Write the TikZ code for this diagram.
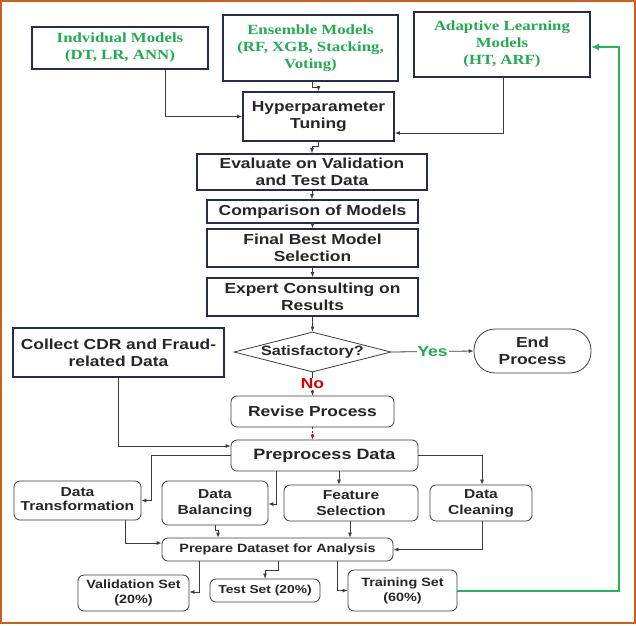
\documentclass[tikz,border=0pt]{standalone}
\usepackage{fontspec}
\setmainfont{Liberation Sans}[FakeStretch=1.2]
\newfontfamily\greenfont{Liberation Serif}[FakeStretch=1.2]
\usetikzlibrary{arrows.meta,calc,shapes.geometric}
\definecolor{frameor}{RGB}{200,96,30}
\definecolor{gtext}{RGB}{36,170,82}
\definecolor{gline}{RGB}{40,180,90}
\definecolor{navy}{RGB}{38,44,78}
\definecolor{lgray}{RGB}{60,60,60}
\begin{document}
\begin{tikzpicture}[x=1pt,y=-1pt,
  modelbox/.style={draw=navy,line width=1.8pt,fill=white,inner sep=0pt,align=center,
    font=\greenfont\bfseries\fontsize{14}{17}\selectfont,text=gtext},
  flowbox/.style={draw=navy,line width=1.8pt,fill=white,inner sep=0pt,align=center,
    font=\bfseries\fontsize{14.5}{17}\selectfont,text=black!85},
  softbox/.style={draw=lgray,line width=0.8pt,rounded corners=6pt,fill=white,inner sep=0pt,align=center,
    font=\bfseries\fontsize{14.5}{17}\selectfont,text=black!85},
  midbox/.style={softbox,font=\bfseries\fontsize{13}{16}\selectfont},
  smallbox/.style={softbox,font=\bfseries\fontsize{12}{15}\selectfont},
  arr/.style={draw=lgray,line width=0.8pt,-{Latex[length=5pt,width=4pt]}},
]
\useasboundingbox (0,0) rectangle (636,625);
\fill[white] (0,0) rectangle (636,625);
\draw[frameor,line width=2.5pt] (1.2,1.2) rectangle (634.8,623.2);

% top model boxes
\node[modelbox,minimum width=176pt,minimum height=42pt] (ind) at (120,48) {Indvidual Models\\(DT, LR, ANN)};
\node[modelbox,minimum width=175pt,minimum height=66pt] (ens) at (310.5,48) {Ensemble Models\\(RF, XGB, Stacking,\\Voting)};
\node[modelbox,minimum width=176pt,minimum height=65pt] (ada) at (502,44.5) {Adaptive Learning\\Models\\(HT, ARF)};

% main flow
\node[flowbox,minimum width=151pt,minimum height=49pt] (hyp) at (318.5,116.5) {Hyperparameter\\Tuning};
\node[flowbox,minimum width=230pt,minimum height=36pt] (eval) at (312,172) {Evaluate on Validation\\and Test Data};
\node[flowbox,minimum width=211pt,minimum height=23pt] (comp) at (312.5,211.5) {Comparison of Models};
\node[flowbox,minimum width=211pt,minimum height=38pt] (final) at (312.5,248) {Final Best Model\\Selection};
\node[flowbox,minimum width=211pt,minimum height=38pt] (expert) at (312.5,297) {Expert Consulting on\\Results};
\node[flowbox,minimum width=211pt,minimum height=49pt] (collect) at (118.5,352.5) {Collect CDR and Fraud-\\related Data};
\node[diamond,draw=lgray,line width=0.8pt,aspect=4,inner sep=0pt,minimum width=157pt,minimum height=40pt,
  font=\bfseries\fontsize{13.5}{16}\selectfont,text=black!85] (sat) at (312.5,352) {Satisfactory?};
\node[softbox,rounded corners=21pt,minimum width=117pt,minimum height=44pt] (end) at (532.5,351) {End\\Process};
\node[softbox,minimum width=163pt,minimum height=31pt] (rev) at (312.5,411.5) {Revise Process};
\node[softbox,minimum width=187pt,minimum height=31pt,font=\bfseries\fontsize{15}{17}\selectfont] (pre) at (324.5,455.5) {Preprocess Data};

% preprocessing steps
\node[midbox,minimum width=127pt,minimum height=39pt] (dtr) at (77.5,500.5)
  {\raisebox{7pt}{\begin{tabular}{@{}c@{}}Data\\[-2pt]Transformation\end{tabular}}};
\node[midbox,minimum width=106pt,minimum height=44pt] (dbal) at (215,503) {Data\\Balancing};
\node[midbox,minimum width=134pt,minimum height=36pt] (fs) at (351,503) {Feature\\Selection};
\node[midbox,minimum width=102pt,minimum height=36pt] (dc) at (481,503) {Data\\Cleaning};
\node[smallbox,minimum width=231pt,minimum height=23pt] (prep) at (277.5,549.5) {Prepare Dataset for Analysis};
\node[smallbox,minimum width=111pt,minimum height=36pt] (val) at (133.5,593) {Validation Set\\(20\%)};
\node[smallbox,minimum width=110pt,minimum height=23pt,font=\bfseries\fontsize{11.5}{14}\selectfont] (test) at (265,590.5) {Test Set (20\%)};
\node[smallbox,minimum width=109pt,minimum height=41pt] (train) at (402.5,590.5) {Training Set\\(60\%)};

\coordinate (gx) at (619,47);

% connectors
\draw[arr] ([xshift=45pt]ind.south) |- (hyp.west);
\draw[arr] ([xshift=1.5pt]ens.south) -- ++(0,5) -| (hyp.north);
\draw[arr] ([xshift=1pt]ada.south) |- ([yshift=-16.5pt]hyp.east);
\draw[arr] (hyp.south) -- ++(0,4) -| (eval.north);
\draw[arr] (eval.south) -- (eval.south |- comp.north);
\draw[arr] (comp.south) -- (final.north);
\draw[arr] (final.south) -- (expert.north);
\draw[arr] (expert.south) -- (sat.north);
\draw[arr] (sat.east) -- node[fill=white,inner sep=1pt,text=gtext,font=\bfseries\fontsize{14.5}{17}\selectfont] (yes) {Yes} (end.west);
\draw[arr] (sat.south) -- node[fill=white,inner sep=1pt,text=red!85!black,font=\bfseries\fontsize{14.5}{17}\selectfont] (no) {No} (rev.north);
\draw[red!85!black,line width=0.8pt,dashed,dash pattern=on 2pt off 1.5pt,-{Latex[length=5pt,width=4pt]}] (rev.south) -- (rev.south |- pre.north);
\draw[arr] (collect.south) |- ([yshift=9.5pt]pre.west);
\draw[arr] (pre.west) -- ++(-79,0) |- (dtr.east);
\draw[arr] ([xshift=-48.5pt]pre.south) |- ([yshift=-1pt]dbal.east);
\draw[arr] ([xshift=14.5pt]pre.south) -- ([xshift=14.5pt]pre.south |- fs.north);
\draw[arr] (pre.east) -| ([xshift=1pt]dc.north);
\draw[arr] ([xshift=47.5pt]dtr.south) |- ([yshift=6.5pt]prep.west);
\draw[arr] (dbal.south) -- ++(0,5) -| ([xshift=-59.5pt]prep.north);
\draw[arr] ([xshift=-1pt]fs.south) -- ([xshift=-1pt]fs.south |- prep.north);
\draw[arr] ([xshift=1pt]dc.south) |- (prep.east);
\draw[arr] ([xshift=-78.5pt]prep.south) |- ([yshift=1pt]val.east);
\draw[arr] ([xshift=0.5pt]prep.south) -- ++(0,8.5) -| (test.north);
\draw[arr] ([xshift=59.5pt]prep.south) |- (train.west);
\draw[gline,line width=2pt,-{Latex[length=8pt,width=7pt]}] (train.east) -| (gx) -- ([yshift=-2.5pt]ada.east);
\end{tikzpicture}
\end{document}
